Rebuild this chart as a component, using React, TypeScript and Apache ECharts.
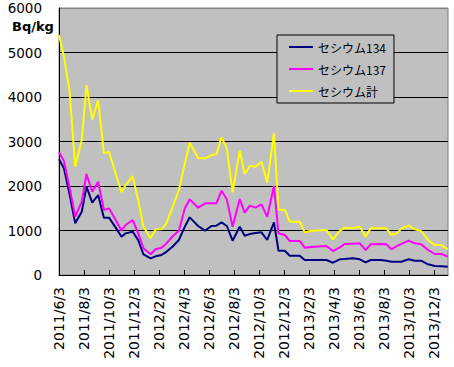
import React, { useEffect, useRef } from 'react';
import * as echarts from 'echarts';

const dates = ['2011-06-03','2011-06-15','2011-06-29','2011-07-12','2011-07-28','2011-08-09','2011-08-23','2011-09-07','2011-09-21','2011-10-03','2011-10-19','2011-11-03','2011-11-13','2011-11-30','2011-12-13','2011-12-26','2012-01-13','2012-01-25','2012-02-09','2012-02-21','2012-03-06','2012-03-21','2012-04-05','2012-04-17','2012-05-07','2012-05-24','2012-06-09','2012-06-21','2012-07-03','2012-07-16','2012-07-30','2012-08-17','2012-08-29','2012-09-11','2012-09-25','2012-10-09','2012-10-23','2012-11-09','2012-11-20','2012-12-05','2012-12-17','2013-01-11','2013-01-23','2013-02-09','2013-02-25','2013-03-15','2013-03-31','2013-04-17','2013-04-29','2013-05-18','2013-06-05','2013-06-19','2013-07-01','2013-07-26','2013-08-09','2013-08-21','2013-09-04','2013-09-15','2013-10-02','2013-10-17','2013-11-02','2013-11-19','2013-12-05','2013-12-21','2014-01-06'];

const cs134 = [2600,2400,1800,1161,1423,1984,1625,1798,1288,1288,1070,861,936,974,790,465,375,420,449,520,640,787,1086,1296,1101,996,1101,1108,1184,1101,771,1086,883,920,945,959,787,1184,546,546,434,434,337,337,337,337,276,353,360,375,353,285,337,337,320,299,299,299,353,321,321,240,202,195,187];

const cs137 = [2757,2560,1950,1310,1647,2270,1872,2097,1461,1498,1240,996,1124,1236,940,600,465,580,614,710,870,996,1498,1700,1513,1611,1611,1611,1895,1700,1086,1708,1400,1560,1513,1588,1310,2000,937,899,764,764,614,630,640,652,539,622,697,705,712,562,689,697,689,577,652,700,771,712,689,562,472,472,412];

const csTotal = [5393,4906,4119,2434,3033,4269,3483,3932,2734,2771,2285,1858,2022,2224,1690,1086,824,1020,1026,1161,1535,1910,2509,2973,2622,2622,2696,2711,3093,2846,1858,2793,2270,2450,2434,2546,2074,3184,1470,1461,1198,1198,959,996,1000,1011,802,989,1063,1049,1086,861,1049,1049,1049,899,937,1049,1108,1027,989,787,674,674,577];

const seriesNames = ['セシウム134', 'セシウム137', 'セシウム計'];
const seriesColors = ['#000080', '#FF00FF', '#FFFF00'];
const xTickMonths = [0, 2, 4, 6, 8, 10, 12, 14, 16, 18, 20, 22, 24, 26, 28, 30];
const yTicks = [0, 1000, 2000, 3000, 4000, 5000, 6000];
const unitLabel = 'Bq/kg';

// months elapsed since 2011/6/3
function monthIndex(d: string): number {
  const [y, mo, da] = d.split('-').map(Number);
  return (y - 2011) * 12 + (mo - 6) + (da - 3) / 30.44;
}

function monthLabel(m: number): string {
  const total = 5 + Math.round(m);
  const year = 2011 + Math.floor(total / 12);
  const month = (total % 12) + 1;
  return `${year}/${month}/3`;
}

export default function App() {
  const ref = useRef<HTMLDivElement>(null);
  useEffect(() => {
    document.body.style.margin = '0';
    const chart = echarts.init(ref.current!, null, { renderer: 'svg' });
    const xs = dates.map(monthIndex);
    const values = [cs134, cs137, csTotal];
    chart.setOption({
      animation: false,
      backgroundColor: '#ffffff',
      grid: {
        left: 59,
        top: 8,
        right: 6,
        bottom: 92,
        show: true,
        backgroundColor: '#C0C0C0',
        borderColor: '#808080',
        borderWidth: 1,
      },
      legend: {
        orient: 'vertical',
        left: 277,
        top: 35,
        padding: [5, 8, 5, 12],
        itemGap: 8,
        itemWidth: 24,
        itemHeight: 2,
        icon: 'rect',
        borderColor: '#000',
        borderWidth: 1,
        backgroundColor: '#C0C0C0',
        textStyle: { fontSize: 12, lineHeight: 14, fontFamily: 'Noto Sans CJK JP', color: '#000' },
        data: seriesNames,
      },
      graphic: [
        {
          type: 'text',
          left: 12,
          top: 20,
          style: { text: unitLabel, font: 'bold 13px "DejaVu Sans"', fill: '#000' },
        },
      ],
      xAxis: {
        type: 'value',
        min: 0,
        max: 31.12,
        interval: 2,
        axisLine: { show: true, lineStyle: { color: '#000', width: 1 } },
        axisTick: { show: true, inside: true, length: 5, lineStyle: { color: '#000' }, customValues: xTickMonths },
        splitLine: { show: false },
        axisLabel: {
          customValues: xTickMonths,
          rotate: 90,
          margin: 12,
          fontSize: 14,
          fontFamily: 'DejaVu Sans',
          color: '#000',
          formatter: (v: number) => monthLabel(v),
        },
      },
      yAxis: {
        type: 'value',
        min: 0,
        max: 6000,
        interval: 1000,
        axisLine: { show: true, lineStyle: { color: '#000', width: 1 } },
        axisTick: { show: false },
        splitLine: {
          show: true,
          lineStyle: { color: ['#000', '#000', '#000', '#000', '#000', '#000', '#808080'], width: 1 },
        },
        axisLabel: {
          customValues: yTicks,
          margin: 17,
          fontSize: 13.5,
          fontFamily: 'DejaVu Sans',
          color: '#000',
          formatter: (v: number) => String(v),
        },
      },
      series: seriesNames.map((name, i) => ({
        name,
        type: 'line',
        symbol: 'none',
        showSymbol: false,
        color: seriesColors[i],
        lineStyle: { color: seriesColors[i], width: 2 },
        data: xs.map((x, j) => [x, values[i][j]]),
      })),
    });
    return () => chart.dispose();
  }, []);
  return <div ref={ref} style={{ width: 454, height: 367 }} />;
}
